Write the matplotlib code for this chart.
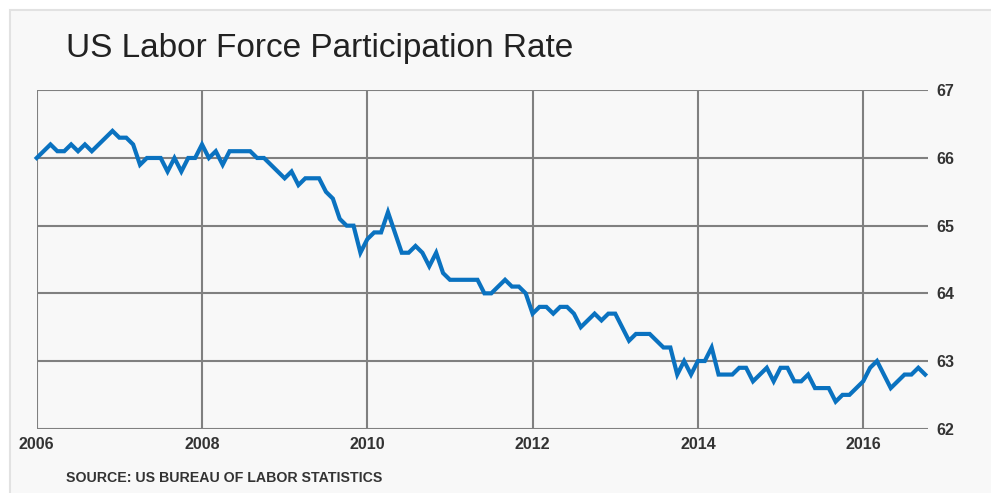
import matplotlib
matplotlib.use("Agg")
import matplotlib.pyplot as plt
from matplotlib.patches import Rectangle
import numpy as np

# Monthly US labor force participation rate, Jan 2006 - Oct 2016
rate_2006 = [66.0, 66.1, 66.2, 66.1, 66.1, 66.2, 66.1, 66.2, 66.1, 66.2, 66.3, 66.4]
rate_2007 = [66.3, 66.3, 66.2, 65.9, 66.0, 66.0, 66.0, 65.8, 66.0, 65.8, 66.0, 66.0]
rate_2008 = [66.2, 66.0, 66.1, 65.9, 66.1, 66.1, 66.1, 66.1, 66.0, 66.0, 65.9, 65.8]
rate_2009 = [65.7, 65.8, 65.6, 65.7, 65.7, 65.7, 65.5, 65.4, 65.1, 65.0, 65.0, 64.6]
rate_2010 = [64.8, 64.9, 64.9, 65.2, 64.9, 64.6, 64.6, 64.7, 64.6, 64.4, 64.6, 64.3]
rate_2011 = [64.2, 64.2, 64.2, 64.2, 64.2, 64.0, 64.0, 64.1, 64.2, 64.1, 64.1, 64.0]
rate_2012 = [63.7, 63.8, 63.8, 63.7, 63.8, 63.8, 63.7, 63.5, 63.6, 63.7, 63.6, 63.7]
rate_2013 = [63.7, 63.5, 63.3, 63.4, 63.4, 63.4, 63.3, 63.2, 63.2, 62.8, 63.0, 62.8]
rate_2014 = [63.0, 63.0, 63.2, 62.8, 62.8, 62.8, 62.9, 62.9, 62.7, 62.8, 62.9, 62.7]
rate_2015 = [62.9, 62.9, 62.7, 62.7, 62.8, 62.6, 62.6, 62.6, 62.4, 62.5, 62.5, 62.6]
rate_2016 = [62.7, 62.9, 63.0, 62.8, 62.6, 62.7, 62.8, 62.8, 62.9, 62.8]

start_year = 2006
x_ticks = [2006, 2008, 2010, 2012, 2014, 2016]
y_ticks = [62, 63, 64, 65, 66, 67]

title = "US Labor Force Participation Rate"
source = "SOURCE: US BUREAU OF LABOR STATISTICS"

values = (rate_2006 + rate_2007 + rate_2008 + rate_2009 + rate_2010 + rate_2011
          + rate_2012 + rate_2013 + rate_2014 + rate_2015 + rate_2016)
dates = start_year + np.arange(len(values)) / 12.0

W, H = 991, 493
fig = plt.figure(figsize=(W / 100, H / 100), dpi=100)
fig.patch.set_facecolor("white")

# light panel (behind everything)
fig.patches.append(Rectangle((10 / W, -0.1), 1.2, (H - 10) / H + 0.1,
                             transform=fig.transFigure, facecolor="#f8f8f8",
                             edgecolor="#e2e2e2", linewidth=1.5, zorder=-10))

left, right = 36.7 / W, 928 / W
bottom, top = 1 - 428.7 / H, 1 - 90.3 / H
ax = fig.add_axes([left, bottom, right - left, top - bottom])
ax.set_zorder(2)
ax.patch.set_alpha(0)

ax.plot(dates, values, color="#0a72c0", linewidth=3.0, solid_joinstyle="miter",
        zorder=3, clip_on=False)

ax.set_xlim(2006, 2006 + (928 - 36.7) / 82.65)
ax.set_ylim(62, 67)
ax.set_xticks(x_ticks)
ax.set_yticks(y_ticks)
ax.set_xticklabels([str(t) for t in x_ticks])
ax.set_yticklabels([str(t) for t in y_ticks])
ax.yaxis.tick_right()
ax.set_axisbelow(True)
ax.grid(True, color="#808080", linewidth=1.5)
for s in ax.spines.values():
    s.set_visible(False)
ax.tick_params(axis="both", length=0, labelsize=11.5, labelcolor="#333333")
ax.tick_params(axis="x", pad=6)
ax.tick_params(axis="y", pad=6)
for lab in ax.get_xticklabels() + ax.get_yticklabels():
    lab.set_fontweight("bold")
    lab.set_fontfamily("Liberation Sans")

fig.text(66 / W, 1 - 57 / H, title, fontsize=24, color="#222222",
         family="Liberation Sans", va="baseline", ha="left")
fig.text(66.5 / W, 1 - 482.5 / H, source, fontsize=10.2, fontweight="bold", color="#333333",
         family="Liberation Sans", va="baseline", ha="left")

fig.savefig("out.png", dpi=100)
